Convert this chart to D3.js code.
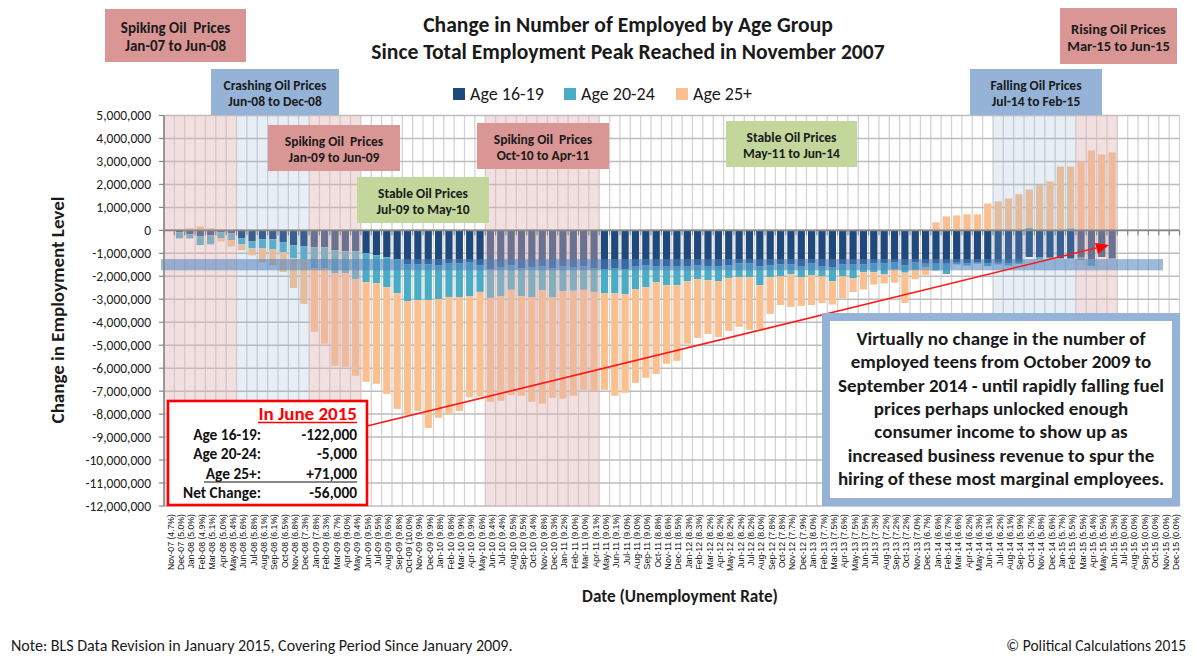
<!DOCTYPE html>
<html><head><meta charset="utf-8">
<script src="https://cdn.jsdelivr.net/npm/d3@7"></script>
<style>body{margin:0;background:#fff}svg{display:block}</style>
</head><body><svg id="c" width="1199" height="662"></svg>
<script>
const months = ["Nov-07","Dec-07",
"Jan-08","Feb-08","Mar-08","Apr-08","May-08","Jun-08","Jul-08","Aug-08","Sep-08","Oct-08","Nov-08","Dec-08",
"Jan-09","Feb-09","Mar-09","Apr-09","May-09","Jun-09","Jul-09","Aug-09","Sep-09","Oct-09","Nov-09","Dec-09",
"Jan-10","Feb-10","Mar-10","Apr-10","May-10","Jun-10","Jul-10","Aug-10","Sep-10","Oct-10","Nov-10","Dec-10",
"Jan-11","Feb-11","Mar-11","Apr-11","May-11","Jun-11","Jul-11","Aug-11","Sep-11","Oct-11","Nov-11","Dec-11",
"Jan-12","Feb-12","Mar-12","Apr-12","May-12","Jun-12","Jul-12","Aug-12","Sep-12","Oct-12","Nov-12","Dec-12",
"Jan-13","Feb-13","Mar-13","Apr-13","May-13","Jun-13","Jul-13","Aug-13","Sep-13","Oct-13","Nov-13","Dec-13",
"Jan-14","Feb-14","Mar-14","Apr-14","May-14","Jun-14","Jul-14","Aug-14","Sep-14","Oct-14","Nov-14","Dec-14",
"Jan-15","Feb-15","Mar-15","Apr-15","May-15","Jun-15","Jul-15","Aug-15","Sep-15","Oct-15","Nov-15","Dec-15"];

const unemploymentRate = ["4.7","5.0",
"5.0","4.9","5.1","5.0","5.4","5.6","5.8","6.1","6.1","6.5","6.8","7.3",
"7.8","8.3","8.7","9.0","9.4","9.5","9.5","9.6","9.8","10.0","9.9","9.9",
"9.8","9.8","9.9","9.9","9.6","9.4","9.4","9.5","9.5","9.4","9.8","9.3",
"9.2","9.0","9.0","9.1","9.0","9.1","9.0","9.0","9.0","8.8","8.6","8.5",
"8.3","8.3","8.2","8.2","8.2","8.2","8.2","8.0","7.8","7.8","7.7","7.9",
"8.0","7.7","7.5","7.6","7.5","7.5","7.3","7.2","7.2","7.2","7.0","6.7",
"6.6","6.7","6.6","6.2","6.3","6.1","6.2","6.1","5.9","5.7","5.8","5.6",
"5.7","5.5","5.5","5.4","5.5","5.3","0.0","0.0","0.0","0.0","0.0","0.0"];

// change in employment level, thousands
const age16to19 = [0,-90,-170,-260,-220,-90,-130,-350,-480,-390,
-390,-520,-650,-700,-740,-740,-870,-910,-910,-1000,
-1090,-1170,-1260,-1480,-1480,-1480,-1520,-1430,-1430,-1390,
-1520,-1700,-1610,-1520,-1650,-1610,-1570,-1650,-1570,-1610,
-1570,-1650,-1700,-1640,-1700,-1570,-1520,-1570,-1570,-1570,
-1570,-1520,-1570,-1570,-1520,-1430,-1430,-1570,-1520,-1480,
-1480,-1570,-1430,-1570,-1610,-1480,-1480,-1480,-1430,-1430,
-1400,-1520,-1400,-1450,-1450,-1450,-1410,-1430,-1380,-1430,
-1410,-1430,-1410,-1160,-1160,-1190,-1220,-1230,-1190,-1260,
-1160,-1230,0,0,0,0,0,0];

const age20to24 = [0,-260,-180,-380,-390,-260,-300,-260,-300,-390,
-440,-440,-570,-560,-910,-910,-1000,-960,-1220,-1260,
-1210,-1310,-1480,-1600,-1550,-1550,-1470,-1470,-1470,-1470,
-1160,-1240,-1250,-1070,-1210,-1290,-1040,-1250,-1070,-1020,
-1020,-1030,-1040,-1100,-1080,-1000,-960,-690,-820,-820,
-650,-610,-600,-650,-550,-610,-610,-820,-520,-520,
-430,-470,-530,-430,-610,-520,-610,-350,-400,-480,
-300,-320,-320,-150,-300,-450,-70,-100,-70,-120,
-70,-100,-50,100,-100,-40,-20,90,-100,-290,
40,40,0,0,0,0,0,0];

const age25plus = [0,40,90,170,90,-130,-270,-260,-310,-600,
-690,-850,-1290,-1940,-2770,-3280,-4030,-4070,-4200,-4330,
-4380,-4640,-5030,-4990,-4830,-5570,-5170,-5100,-4960,-4410,
-4550,-4520,-4560,-4570,-4340,-4560,-4940,-4390,-4690,-4570,
-4350,-4310,-4200,-4460,-4290,-4070,-3940,-3990,-3420,-3290,
-2720,-2550,-2340,-2420,-2310,-2160,-2290,-1900,-1600,-1250,
-1420,-1250,-1290,-1160,-1010,-960,-600,-740,-530,-400,
-580,-1320,-410,-340,350,610,650,700,700,1170,
1260,1390,1570,1680,1970,2130,2780,2690,3000,3480,
3260,3350,0,0,0,0,0,0];

const seriesNames = ["Age 16-19","Age 20-24","Age 25+"];
const seriesColors = ["#1f497d","#4bacc6","#fac090"];
const yTickValues = [5e6,4e6,3e6,2e6,1e6,0,-1e6,-2e6,-3e6,-4e6,-5e6,-6e6,-7e6,-8e6,-9e6,-10e6,-11e6,-12e6];

// oil price periods (shaded): first month, last month, kind
const shadeFrom = ["Nov-07","Jun-08","Jan-09","Jun-10","Jul-14","Mar-15"];
const shadeTo   = ["May-08","Dec-08","May-09","Apr-11","Feb-15","Jun-15"];
const shadeKind = ["spike","crash","spike","spike","crash","spike"];

const periodLine1 = ["Spiking Oil  Prices","Crashing Oil Prices","Spiking Oil  Prices","Stable Oil Prices","Spiking Oil  Prices","Stable Oil Prices","Falling Oil Prices","Rising Oil Prices"];
const periodLine2 = ["Jan-07 to Jun-08","Jun-08 to Dec-08","Jan-09 to Jun-09","Jul-09 to May-10","Oct-10 to Apr-11","May-11 to Jun-14","Jul-14 to Feb-15","Mar-15 to Jun-15"];
const periodKind  = ["spike","crash","spike","stable","spike","stable","crash","spike"];

const juneLabels = ["Age 16-19:","Age 20-24:","Age 25+:","Net Change:"];
const juneValues = ["-122,000","-5,000","+71,000","-56,000"];

const noteLines = ["Virtually no change in the number of","employed teens from October 2009 to","September 2014 - until rapidly falling fuel","prices perhaps unlocked enough","consumer income to show up as","increased business revenue to spur the","hiring of these most marginal employees."];

// ------------------------------------------------------------------
const FONT = "Carlito, Lato, 'Open Sans', sans-serif";
const svg = d3.select("#c");
const W = 1199, H = 662;
const plot = {left:164, right:1179.5, top:115.5, bottom:506};

const x = d3.scaleBand().domain(months).range([plot.left, plot.right]).paddingInner(0.3).paddingOuter(0.15);
const step = x.step();
const y = d3.scaleLinear().domain([-12e6, 5e6]).range([plot.bottom, plot.top]);
const fmt = d3.formatLocale({decimal:".",thousands:",",grouping:[3],currency:["$",""],minus:"-"}).format(",");

const table = months.map((m,i)=>({month:m, a:age16to19[i]*1000, b:age20to24[i]*1000, c:age25plus[i]*1000}));
const stacked = d3.stack().keys(["a","b","c"]).offset(d3.stackOffsetDiverging)(table);

svg.append("rect").attr("width",W).attr("height",H).attr("fill","#fff");

// gridlines
const bounds = d3.range(0, months.length + 1).map(i => plot.left + i*step);
svg.append("g").selectAll("line").data(bounds).join("line")
  .attr("x1",d=>d).attr("x2",d=>d).attr("y1",plot.top).attr("y2",plot.bottom)
  .attr("stroke","#d4d4d4").attr("stroke-width",1.3);
svg.append("g").selectAll("line").data(yTickValues).join("line")
  .attr("x1",plot.left).attr("x2",plot.right).attr("y1",d=>y(d)).attr("y2",d=>y(d))
  .attr("stroke","#bdbdbd").attr("stroke-width",1.5);

// bars
svg.append("g").selectAll("g").data(stacked).join("g")
  .attr("fill",(d,i)=>seriesColors[i])
  .selectAll("rect").data(d=>d).join("rect")
  .attr("x",d=>x(d.data.month)).attr("width",x.bandwidth())
  .attr("y",d=>y(Math.max(d[0],d[1]))).attr("height",d=>Math.abs(y(d[0])-y(d[1])));

// shaded periods
const shadeFill = {spike:"rgba(222,175,175,0.4)", crash:"rgba(149,179,215,0.22)"};
svg.append("g").selectAll("rect").data(shadeFrom).join("rect")
  .attr("x",(d,i)=> i===0 ? plot.left : x(d) - 0.15*step)
  .attr("width",(d,i)=> x(shadeTo[i]) + x.bandwidth() + 0.15*step - (i===0 ? plot.left : x(d) - 0.15*step))
  .attr("y",plot.top).attr("height",plot.bottom-plot.top)
  .attr("fill",(d,i)=>shadeFill[shadeKind[i]]);

// highlight band at teen level
svg.append("rect").attr("x",161).attr("width",1163-161)
  .attr("y",y(-1.25e6)).attr("height",y(-1.74e6)-y(-1.25e6))
  .attr("fill","rgba(79,129,189,0.55)");

// zero axis line + ticks
svg.append("line").attr("x1",plot.left).attr("x2",plot.right).attr("y1",y(0)).attr("y2",y(0))
  .attr("stroke","#868686").attr("stroke-width",1.6);
svg.append("g").selectAll("line").data(bounds).join("line")
  .attr("x1",d=>d).attr("x2",d=>d).attr("y1",y(0)).attr("y2",y(0)+5)
  .attr("stroke","#868686").attr("stroke-width",1.2);

// y axis
svg.append("line").attr("x1",plot.left).attr("x2",plot.left).attr("y1",plot.top).attr("y2",plot.bottom)
  .attr("stroke","#868686").attr("stroke-width",1.6);
svg.append("g").selectAll("line").data(yTickValues).join("line")
  .attr("x1",plot.left-5).attr("x2",plot.left).attr("y1",d=>y(d)).attr("y2",d=>y(d))
  .attr("stroke","#868686").attr("stroke-width",1.2);
svg.append("g").selectAll("text").data(yTickValues).join("text")
  .attr("x",151).attr("y",d=>y(d)).attr("dy","0.35em").attr("text-anchor","end")
  .attr("font-family",FONT).attr("font-size",13.5).attr("fill","#222")
  .text(d=>fmt(d));

// x tick labels
svg.append("g").selectAll("text").data(months).join("text")
  .attr("transform",d=>`translate(${x(d)+x.bandwidth()/2+1.5},514) rotate(-90)`)
  .attr("dy","0.35em").attr("text-anchor","end")
  .attr("font-family","'Liberation Sans', Arial, sans-serif").attr("font-size",8.7).attr("fill","#111")
  .text((d,i)=>`${d} (${unemploymentRate[i]}%)`);

// axis titles
svg.append("text").attr("transform","translate(64,310) rotate(-90)").attr("text-anchor","middle")
  .attr("font-family",FONT).attr("font-weight","bold").attr("font-size",19).attr("fill","#1a1a1a")
  .text("Change in Employment Level");
svg.append("text").attr("x",680).attr("y",602).attr("text-anchor","middle")
  .attr("font-family",FONT).attr("font-weight","bold").attr("font-size",17.2).attr("fill","#1a1a1a")
  .text("Date (Unemployment Rate)");

// title
svg.append("g").selectAll("text").data(["Change in Number of Employed by Age Group","Since Total Employment Peak Reached in November 2007"]).join("text")
  .attr("x",628).attr("y",(d,i)=>32+i*27).attr("text-anchor","middle")
  .attr("font-family",FONT).attr("font-weight","bold").attr("font-size",21.6).attr("fill","#1a1a1a")
  .text(d=>d);

// legend
const legX = [453,564,676];
const leg = svg.append("g").selectAll("g").data(seriesNames).join("g")
  .attr("transform",(d,i)=>`translate(${legX[i]},88)`);
leg.append("rect").attr("width",12).attr("height",12).attr("fill",(d,i)=>seriesColors[i]);
leg.append("text").attr("x",17).attr("y",6).attr("dy","0.36em")
  .attr("font-family",FONT).attr("font-size",18).attr("fill","#1a1a1a").text(d=>d);

// period boxes
const boxFill = {spike:"#d99694", crash:"#95b3d7", stable:"#c3d69b"};
const boxX = [105,211,268,357,477,726,970,1060];
const boxY = [9,69,125,177,123,121,69,8];
const boxW = [141,128,132,132,132,131,132,117];
const boxH = [53,46,46,46,46,46,46,56];
const boxFont = [15,13.5,13.5,13.5,13.5,13.5,13.5,14.5];
const pb = svg.append("g").selectAll("g").data(periodLine1).join("g")
  .attr("transform",(d,i)=>`translate(${boxX[i]},${boxY[i]})`);
pb.append("rect").attr("width",(d,i)=>boxW[i]).attr("height",(d,i)=>boxH[i]).attr("fill",(d,i)=>boxFill[periodKind[i]]);
pb.append("text").attr("x",(d,i)=>boxW[i]/2).attr("y",(d,i)=>boxH[i]/2-2.5).attr("text-anchor","middle")
  .attr("font-family",FONT).attr("font-weight","bold").attr("font-size",(d,i)=>boxFont[i]).attr("fill","#1a1a1a")
  .style("white-space","pre").text(d=>d);
pb.append("text").attr("x",(d,i)=>boxW[i]/2).attr("y",(d,i)=>boxH[i]/2+boxFont[i]+0.5).attr("text-anchor","middle")
  .attr("font-family",FONT).attr("font-weight","bold").attr("font-size",(d,i)=>boxFont[i]).attr("fill","#1a1a1a")
  .text((d,i)=>periodLine2[i]);

// arrow
svg.append("line").attr("x1",367).attr("y1",426).attr("x2",1096).attr("y2",248)
  .attr("stroke","#ff1a1a").attr("stroke-width",1.6);
svg.append("path").attr("d","M1109,245 L1095,243 L1098,254 Z").attr("fill","#ff0000");

// June 2015 box
const jb = svg.append("g").attr("transform","translate(168,401)");
jb.append("rect").attr("width",199).attr("height",104).attr("fill","#fff").attr("stroke","#ff0000").attr("stroke-width",2.6);
jb.append("text").attr("x",189).attr("y",19).attr("text-anchor","end")
  .attr("font-family",FONT).attr("font-weight","bold").attr("font-size",19).attr("fill","#ff0000")
  .text("In June 2015");
jb.append("line").attr("x1",90).attr("x2",189).attr("y1",21.5).attr("y2",21.5).attr("stroke","#ff0000").attr("stroke-width",1.3);
jb.selectAll("text.l").data(juneLabels).join("text").attr("class","l")
  .attr("x",93).attr("y",(d,i)=>39+i*19.3).attr("text-anchor","end")
  .attr("font-family",FONT).attr("font-weight","bold").attr("font-size",15.4).attr("fill","#111").text(d=>d);
jb.selectAll("text.v").data(juneValues).join("text").attr("class","v")
  .attr("x",189).attr("y",(d,i)=>39+i*19.3).attr("text-anchor","end")
  .attr("font-family",FONT).attr("font-weight","bold").attr("font-size",15.4).attr("fill","#111").text(d=>d);
jb.append("line").attr("x1",36).attr("x2",189).attr("y1",81).attr("y2",81).attr("stroke","#111").attr("stroke-width",1.2);

// teen note box
const nb = svg.append("g").attr("transform","translate(822,313)");
nb.append("rect").attr("x",4).attr("y",4).attr("width",350).attr("height",185).attr("fill","#fff")
  .attr("stroke","#95b3d7").attr("stroke-width",8);
nb.selectAll("text").data(noteLines).join("text")
  .attr("x",179).attr("y",(d,i)=>32+i*23.3).attr("text-anchor","middle")
  .attr("font-family",FONT).attr("font-weight","bold").attr("font-size",19).attr("fill","#1a1a1a").text(d=>d);

// footer
svg.append("text").attr("x",11).attr("y",651).attr("font-family",FONT).attr("font-size",16).attr("fill","#1a1a1a")
  .text("Note: BLS Data Revision in January 2015, Covering Period Since January 2009.");
svg.append("text").attr("x",1186).attr("y",651).attr("text-anchor","end").attr("font-family",FONT).attr("font-size",15.5).attr("fill","#1a1a1a")
  .text("© Political Calculations 2015");
</script></body></html>
